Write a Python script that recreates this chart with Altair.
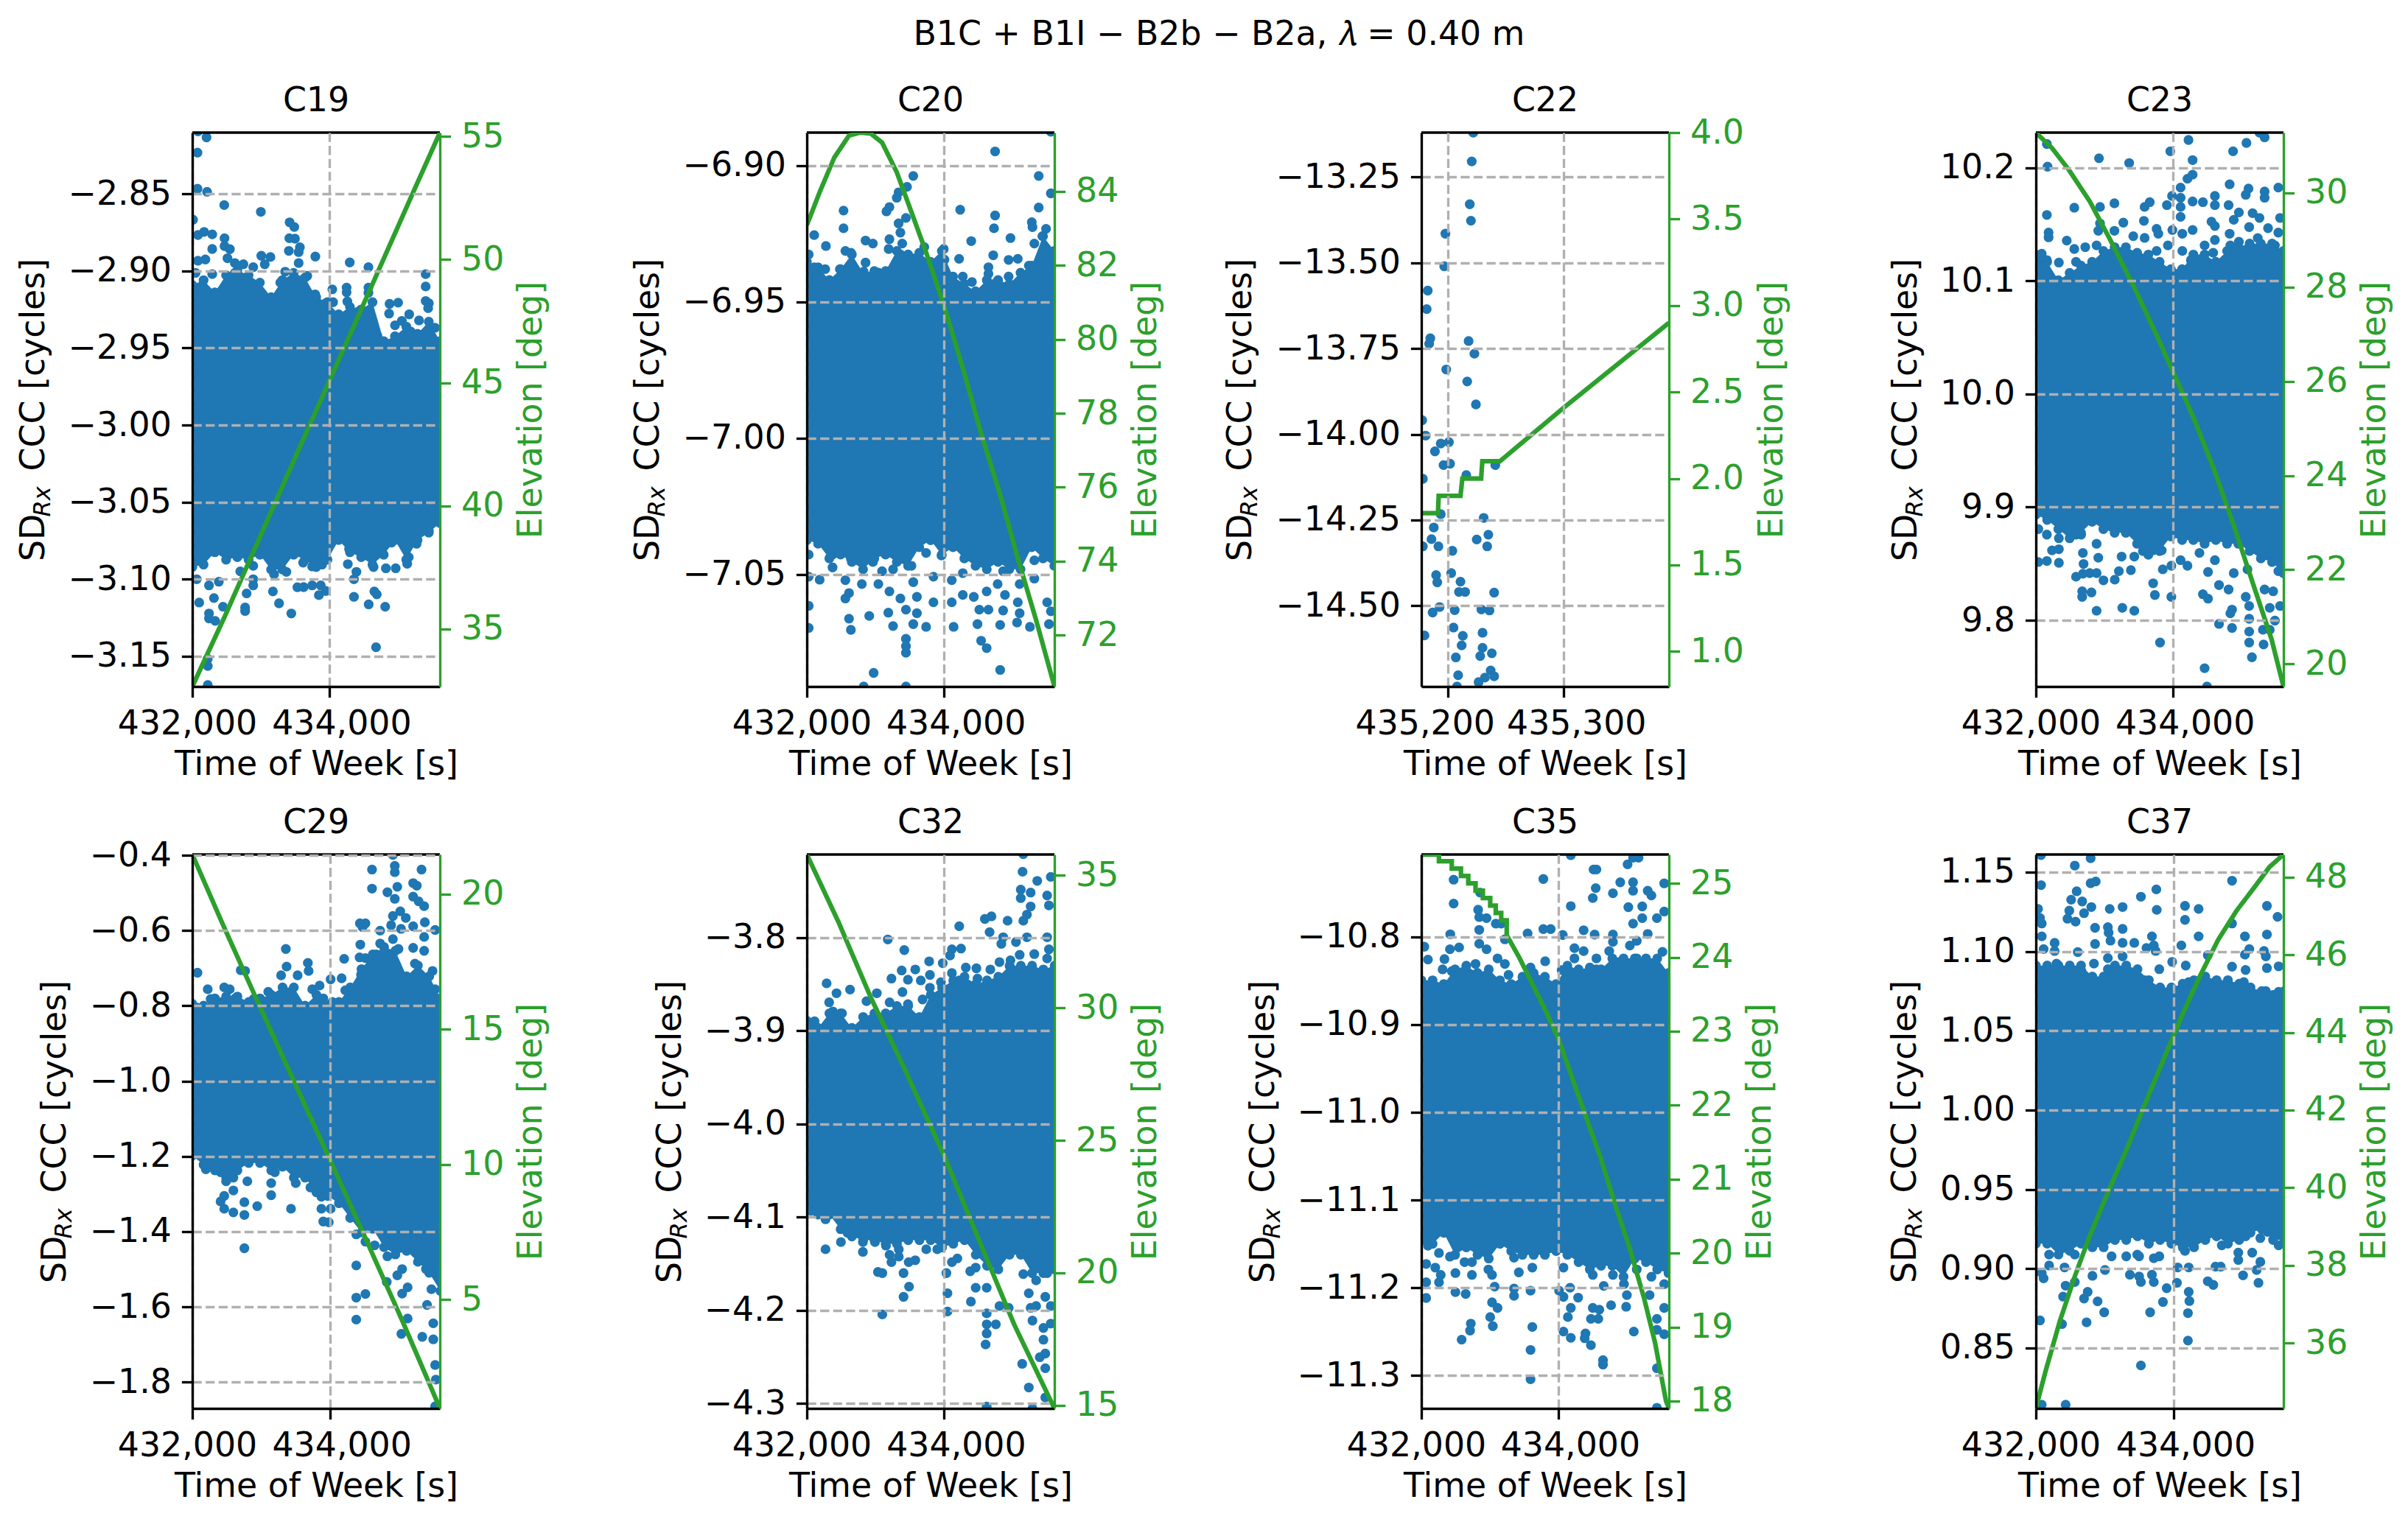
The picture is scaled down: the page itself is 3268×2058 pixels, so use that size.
import altair as alt
import pandas as pd

BLUE = "#1f77b4"
GREEN = "#2ca02c"
FONT = "DejaVu Sans"
FS = 45.8
W, H = 336, 752

SUPTITLE = "B1C + B1I \u2212 B2b \u2212 B2a, \U0001D706 = 0.40 m"

BAND_T = [432000,432164,432328,432492,432656,432820,432984,433148,433312,433476,433640,433804,433968,434132,434296,434460,434624,434788,434952,435116,435280,435444,435608]

C19_DOTS = [(432082,-2.8095),(432207,-2.8134),(432075,-2.8233),(432075,-2.8467),(432215,-2.8487),(432465,-2.8573),(432998,-2.8617),(432010,-2.8668),(433417,-2.8685),(433485,-2.8715),(432082,-2.8767),(432172,-2.8747),(432290,-2.8763),(432469,-2.8788),(433413,-2.8788),(433495,-2.8791),(432290,-2.8858),(432469,-2.8839),(432547,-2.8859),(433567,-2.8847),(433406,-2.887),(433549,-2.8878),(433005,-2.8902),(433138,-2.891),(433055,-2.8957),(433792,-2.8907),(434293,-2.8945),(434565,-2.8976),(435399,-2.9021),(435399,-2.9101),(432190,-2.8926),(432082,-2.8934),(432047,-2.9013),(432512,-2.8918),(432619,-2.8949),(432744,-2.8957),(432887,-2.8976),(432619,-2.9013),(432290,-2.9021),(432530,-2.906),(433352,-2.9005),(433549,-2.8949),(433674,-2.9032),(433567,-2.9076),(433281,-2.9076),(434039,-2.912),(434247,-2.9108),(434247,-2.9139),(434565,-2.9108),(434565,-2.9142),(434258,-2.9198),(433789,-2.9152),(433674,-2.9147),(434050,-2.9203),(433943,-2.921),(434873,-2.9214),(434998,-2.9206),(434866,-2.9277),(435399,-2.9195),(435445,-2.921),(435435,-2.9242),(434569,-2.9277),(434504,-2.9337),(434408,-2.9266),(435159,-2.9282),(435052,-2.9324),(434952,-2.9353),(435302,-2.9321),(434694,-2.9419),(435177,-2.9392),(435535,-2.9369),(433817,-2.9282),
(432064,-3.1),(432100,-3.1151),(432243,-3.104),(432386,-3.1016),(432315,-3.1122),(432447,-3.1178),(432243,-3.1222),(432243,-3.1254),(432333,-3.127),(432225,-3.1563),(432225,-3.1516),(432225,-3.1686),(432698,-3.0949),(432887,-3.0913),(432887,-3.1),(432887,-3.104),(432791,-3.1092),(432769,-3.1183),(432769,-3.1206),(433174,-3.1079),(433263,-3.1156),(433442,-3.1222),(433191,-3.0968),(433370,-3.0952),(433174,-3.0905),(433531,-3.1052),(433621,-3.1051),(433746,-3.104),(433871,-3.104),(433943,-3.1076),(433843,-3.1103),(433614,-3.0892),(433746,-3.0917),(433889,-3.0905),(433943,-3.0841),(434265,-3.0902),(434390,-3.0952),(434354,-3.1),(434354,-3.1114),(434651,-3.1079),(434687,-3.1098),(434569,-3.1163),(434809,-3.1178),(434676,-3.1441),(434819,-3.0929),(434962,-3.0929),(435130,-3.09),(435152,-3.0857),(434902,-3.0762),(435266,-3.077),(435445,-3.0683),(434157,-3.073),(434283,-3.0802),(434640,-3.0921)]
C19_BAND_TOP = [-2.9092,-2.906,-2.9139,-2.9028,-2.8997,-2.9028,-2.9076,-2.9171,-2.906,-2.9013,-2.9044,-2.9171,-2.9203,-2.9282,-2.9234,-2.925,-2.9203,-2.9456,-2.9424,-2.9361,-2.9408,-2.9329,-2.9456]
C19_BAND_BOT = [-3.0921,-3.0905,-3.0825,-3.0873,-3.0857,-3.0873,-3.0841,-3.0937,-3.0937,-3.0841,-3.0873,-3.0921,-3.0873,-3.0746,-3.0825,-3.0857,-3.0905,-3.0841,-3.0746,-3.0873,-3.0746,-3.0698,-3.0635]
C19_LINE_T = [432000,432471,433019,433567,434000,434663,435211,435606]
C19_LINE_E = [32.66,35.5,38.95,42.4,45.1,49.25,52.7,55.16]

C20_DOTS = [(435558,-6.8876),(434745,-6.8948),(433552,-6.9038),(435381,-6.9038),(433461,-6.9078),(433338,-6.9098),(433311,-6.9118),(435558,-6.9102),(433204,-6.9152),(433161,-6.9168),(432535,-6.9165),(432535,-6.923),(434236,-6.9162),(434745,-6.9183),(435381,-6.9154),(433445,-6.9192),(433338,-6.9212),(434729,-6.923),(435280,-6.9208),(435290,-6.9226),(433364,-6.9246),(432107,-6.9255),(434969,-6.9266),(434397,-6.9277),(435488,-6.9232),(435434,-6.9259),(433204,-6.927),(432856,-6.9275),(432963,-6.9286),(432278,-6.9295),(433391,-6.9286),(435317,-6.9286),(432562,-6.9313),(432643,-6.932),(432027,-6.9326),(433712,-6.9299),(433996,-6.9306),(433193,-6.9306),(433364,-6.9326),(433525,-6.934),(434220,-6.9342),(434718,-6.9329),(435531,-6.9329),(432643,-6.936),(432856,-6.9356),(433819,-6.936),(434006,-6.9345),(434942,-6.9346),(435076,-6.9342),(434648,-6.9373),(432107,-6.9373),(432268,-6.938),(432482,-6.938),(433043,-6.9393),(432829,-6.9389),(434274,-6.9407),(434648,-6.9397),(434942,-6.9407),(435237,-6.9367),(435504,-6.9393),(432027,-6.9434),(432615,-6.9441),(432856,-6.9434),(433257,-6.9427),(434407,-6.9427),(434729,-6.9434),
(432027,-7.0427),(432027,-7.0508),(432187,-7.0519),(432375,-7.0427),(432375,-7.0474),(432615,-7.04),(432562,-7.0521),(432642,-7.0441),(432802,-7.0535),(433043,-7.0535),(432963,-7.0454),(433097,-7.0488),(433257,-7.0481),(433525,-7.0468),(433552,-7.0528),(433204,-7.0562),(432615,-7.0568),(432562,-7.0588),(433364,-7.0588),(433445,-7.0629),(433605,-7.0582),(433605,-7.0642),(433846,-7.0602),(433846,-7.0508),(433739,-7.0421),(433963,-7.043),(434113,-7.0521),(434113,-7.0602),(434274,-7.0495),(434274,-7.0575),(434434,-7.0582),(434515,-7.0629),(434648,-7.0629),(434622,-7.0562),(434782,-7.0535),(434889,-7.0575),(434862,-7.0632),(435076,-7.0602),(435103,-7.0642),(435103,-7.0535),(434862,-7.0488),(435317,-7.0515),(435317,-7.0448),(435504,-7.0602),(435558,-7.0635),(435531,-7.0682),(432027,-7.0615),(432027,-7.0696),(432615,-7.0662),(432642,-7.0703),(432910,-7.0652),(433188,-7.064),(433257,-7.0689),(433552,-7.0682),(433739,-7.0692),(434140,-7.0692),(434488,-7.0682),(434819,-7.0685),(435065,-7.0676),(435253,-7.0692),(434541,-7.0743),(434622,-7.077),(433445,-7.0736),(433445,-7.0763),(433445,-7.0787),(434819,-7.085),(432974,-7.0861),(432829,-7.0911),(433445,-7.0911)]
C20_BAND_TOP = [-6.9353,-6.9373,-6.942,-6.938,-6.9326,-6.9393,-6.9387,-6.9387,-6.9313,-6.9326,-6.932,-6.9353,-6.9313,-6.9407,-6.9434,-6.9461,-6.942,-6.942,-6.9434,-6.9393,-6.9367,-6.9259,-6.9313]
C20_BAND_BOT = [-7.0374,-7.0387,-7.0441,-7.0427,-7.0454,-7.0481,-7.0441,-7.0427,-7.0454,-7.0468,-7.04,-7.0374,-7.0427,-7.04,-7.0441,-7.0468,-7.0481,-7.0454,-7.0481,-7.0481,-7.04,-7.0441,-7.0468]
C20_LINE_T = [432000,432187,432401,432615,432776,432936,433097,433311,433525,433739,434000,434274,434541,434809,435076,435344,435611]
C20_LINE_E = [83.09,83.98,84.92,85.51,85.59,85.56,85.32,84.52,83.44,82.35,80.91,79.23,77.45,75.86,74.08,72.4,70.61]

C22_DOTS = [(435222,-13.12),(435220.7,-13.204),(435219,-13.329),(435220,-13.377),(435198,-13.415),(435197,-13.51),(435182.8,-13.581),(435181.9,-13.635),(435185,-13.72),(435184,-13.736),(435218,-13.728),(435223,-13.765),(435198.7,-13.811),(435216.8,-13.846),(435224.3,-13.913),(435178,-13.959),(435181,-14.004),(435194,-14.027),(435201,-14.023),(435189,-14.05),(435196.4,-14.09),(435202,-14.086),(435178.6,-14.13),(435216,-14.119),(435241,-14.09),(435194,-14.233),(435188,-14.272),(435186,-14.306),(435178.6,-14.327),(435192,-14.327),(435231,-14.244),(435235,-14.293),(435225,-14.307),(435234,-14.327),(435204,-14.34),(435190,-14.411),(435191,-14.432),(435203,-14.405),(435211,-14.43),(435209.7,-14.46),(435215,-14.46),(435240,-14.462),(435187,-14.52),(435193,-14.504),(435206,-14.513),(435229,-14.511),(435236,-14.514),(435180,-14.587),(435205,-14.564),(435213,-14.588),(435230,-14.579),(435212,-14.616),(435230,-14.623),(435238,-14.639),(435228,-14.647),(435207,-14.651),(435209,-14.703),(435237,-14.689),(435240,-14.706),(435232,-14.71),(435226.6,-14.723),(435208,-14.736)]
C22_LINE_T = [435177.3,435191.6,435192.2,435211,435212.6,435228.8,435229.8,435245,435300,435390.6]
C22_LINE_E = [1.8,1.8,1.9,1.9,2.0,2.0,2.1,2.1,2.41,2.9]

C23_DOTS = [(432160,10.221),(432170,10.201),(432920,10.2084),(433360,10.2042),(433960,10.2146),(434225,10.2246),(434285,10.2068),(434285,10.1939),(434210,10.1903),(434875,10.2146),(435070,10.222),(435260,10.2311),(435335,10.2269),(434110,10.1825),(434825,10.1854),(435100,10.1816),(435060,10.1761),(435335,10.179),(435335,10.1735),(435535,10.1825),(433985,10.1751),(434110,10.1735),(434285,10.1702),(434435,10.1696),(434610,10.1751),(433910,10.167),(434110,10.1654),(434810,10.167),(434610,10.167),(433145,10.1686),(432935,10.1654),(432560,10.1647),(432160,10.1583),(433660,10.1696),(433585,10.1654),(434110,10.1566),(434960,10.1605),(435160,10.1599),(434885,10.154),(435260,10.1557),(435560,10.1557),(434560,10.1524),(434610,10.1485),(433275,10.1515),(432935,10.1508),(433575,10.1531),(433760,10.146),(433785,10.1417),(433990,10.145),(432910,10.1443),(433145,10.1443),(432185,10.1427),(432185,10.1385),(434135,10.1417),(434285,10.145),(434825,10.1417),(435110,10.1476),(435385,10.1466),(435535,10.1427),(433420,10.1395),(433585,10.138),(434610,10.1362),(432450,10.1356),(435235,10.1379),(434960,10.1346),(432560,10.1282),(432720,10.1298),(432885,10.1314),(432085,10.124),(432160,10.1184),(432335,10.1162),(433760,10.1265),(433925,10.1314),(434135,10.1265),(434460,10.1314),(434835,10.1314),(435485,10.1314),(435085,10.1282),(435285,10.1265),(433360,10.1184),(434260,10.1184),(432585,10.1168),(432885,10.1152),(434585,10.1249),(435410,10.1168),(432035,10.1071),(432185,10.1039),(432235,10.0926),(432310,10.0812),
(432035,9.8806),(432160,9.8757),(432335,9.8725),(432035,9.8515),(432160,9.8524),(432335,9.8508),(432235,9.8618),(432335,9.8628),(432335,9.8968),(432585,9.8757),(432660,9.8757),(432685,9.8595),(432695,9.8498),(432585,9.8385),(432685,9.8411),(432885,9.8676),(432910,9.8553),(432785,9.8417),(432885,9.8417),(432985,9.8353),(432675,9.8256),(432675,9.8207),(432810,9.8246),(432885,9.8084),(433260,9.811),(433435,9.8084),(433150,9.8359),(433210,9.8434),(433385,9.8443),(433250,9.8563),(433435,9.8563),(433585,9.8968),(433535,9.8838),(433860,9.8812),(433560,9.8612),(433710,9.8618),(433835,9.8618),(433710,9.8327),(433735,9.8223),(433850,9.845),(433975,9.8482),(433975,9.8207),(433810,9.7803),(434110,9.8531),(434210,9.8482),(434385,9.8595),(434510,9.8427),(434435,9.823),(434510,9.8191),(434460,9.7576),(434495,9.7414),(434610,9.8531),(434670,9.8311),(434810,9.8272),(434885,9.8417),(434835,9.8061),(434860,9.8094),(434670,9.7968),(434860,9.7932),(435060,9.8207),(435110,9.8126),(435110,9.8013),(435110,9.79),(435110,9.7803),(435150,9.7673),(435320,9.7786),(435310,9.7916),(435410,9.7916),(435485,9.7997),(435410,9.811),(435335,9.8272),(435460,9.8256),(435560,9.8126),(435535,9.8434),(435085,9.845),(435335,9.8644),(435485,9.8547)]
C23_BAND_TOP = [10.1233,10.1168,10.1006,10.1071,10.1136,10.1168,10.1265,10.1298,10.1298,10.1249,10.1233,10.1168,10.1104,10.1104,10.1233,10.1233,10.1168,10.1265,10.1298,10.133,10.133,10.133,10.1265]
C23_BAND_BOT = [9.8935,9.8887,9.8806,9.8725,9.8773,9.8871,9.8806,9.8773,9.8773,9.8676,9.8579,9.8612,9.8741,9.8709,9.8709,9.8676,9.8709,9.8676,9.8676,9.8612,9.8547,9.8515,9.8417]
C23_LINE_T = [432000,432235,432485,432785,433085,433435,433735,434000,434285,434585,434885,435185,435435,435610]
C23_LINE_E = [31.28,30.95,30.48,29.82,29.0,27.99,27.06,26.2,25.27,24.18,22.94,21.62,20.53,19.52]

C29_DOTS = [(434917,-0.3992),(434613,-0.438),(434944,-0.4283),(434944,-0.4449),(435333,-0.438),(434613,-0.4886),(434981,-0.4838),(434837,-0.4983),(435211,-0.474),(435264,-0.4808),(434944,-0.5158),(435211,-0.51),(435291,-0.5226),(435371,-0.5353),(435024,-0.5489),(434917,-0.5615),(435104,-0.5664),(434437,-0.581),(434517,-0.581),(435381,-0.5781),(434475,-0.5907),(434891,-0.5859),(435211,-0.5888),(435035,-0.5956),(434731,-0.6004),(435531,-0.5985),(435371,-0.617),(434917,-0.6228),(434443,-0.6374),(435211,-0.6461),(434731,-0.6345),(433360,-0.649),(434997,-0.649),(435371,-0.6539),(434432,-0.6714),(434208,-0.6753),(433680,-0.686),(434677,-0.6636),(434517,-0.6733),(434837,-0.6733),(433371,-0.6957),(433691,-0.7074),(435237,-0.6879),(432075,-0.7122),(432704,-0.7054),(432768,-0.7074),(434453,-0.7171),(434731,-0.7074),(433291,-0.719),(433531,-0.719),(435493,-0.7074),(434011,-0.7297),(433851,-0.7462),(434171,-0.7268),(432224,-0.756),(432464,-0.7511),(432544,-0.756),(433104,-0.7628),(433744,-0.756),(434224,-0.7589),(435531,-0.756),(432267,-0.7822),(432624,-0.7803),(432891,-0.7822),(433904,-0.7803),(434037,-0.79),(435531,-0.7803),(432064,-0.8046),
(432197,-1.2343),(432411,-1.2421),(432597,-1.2567),(432491,-1.2664),(432800,-1.2664),(432597,-1.2907),(432464,-1.3053),(432411,-1.3199),(432464,-1.3393),(432597,-1.349),(432757,-1.3218),(432757,-1.3558),(432944,-1.3325),(433147,-1.3033),(433147,-1.2712),(433200,-1.2421),(433435,-1.3393),(433504,-1.2712),(433717,-1.2829),(433877,-1.3072),(433877,-1.3393),(434011,-1.3393),(433904,-1.3733),(433984,-1.3753),(432757,-1.4443),(434384,-1.4074),(434517,-1.4268),(434651,-1.4365),(434837,-1.4657),(434384,-1.49),(434384,-1.5755),(434517,-1.5658),(434384,-1.6339),(434827,-1.5337),(434981,-1.5162),(435051,-1.4997),(435131,-1.5483),(435051,-1.5648),(435413,-1.595),(435131,-1.631),(435504,-1.6436),(435040,-1.6718),(435344,-1.6796),(435504,-1.6864),(435531,-1.7544),(435541,-1.7933),(435531,-1.8643),(435477,-1.5532),(434837,-1.3636),(435051,-1.4219),(435264,-1.4365),(435397,-1.4997),(434891,-1.3928)]
C29_BAND_TOP = [-0.7949,-0.7997,-0.7803,-0.7754,-0.7754,-0.79,-0.7803,-0.7706,-0.7511,-0.7511,-0.7997,-0.7706,-0.7997,-0.79,-0.7511,-0.7025,-0.6636,-0.6442,-0.6539,-0.722,-0.6928,-0.722,-0.7803]
C29_BAND_BOT = [-1.1983,-1.2226,-1.2372,-1.2567,-1.2372,-1.2178,-1.2178,-1.2372,-1.2275,-1.2567,-1.2567,-1.2955,-1.3053,-1.3247,-1.3636,-1.4025,-1.3928,-1.4414,-1.4608,-1.4511,-1.4803,-1.5094,-1.558]
C29_LINE_T = [432000,432437,432917,433451,434000,434517,435051,435600]
C29_LINE_E = [21.47,18.92,16.21,13.23,10.19,7.28,4.24,0.99]

C32_DOTS = [(435152,-3.7104),(435141,-3.7293),(435552,-3.7348),(435355,-3.7391),(435115,-3.7485),(435259,-3.7517),(435115,-3.7576),(435499,-3.7548),(435259,-3.7666),(435525,-3.7654),(435205,-3.7753),(434592,-3.78),(434688,-3.7772),(435152,-3.7819),(434923,-3.7819),(434219,-3.7878),(434661,-3.7941),(435205,-3.7996),(434859,-3.7996),(435499,-3.7996),(433179,-3.802),(435045,-3.8047),(434832,-3.8067),(433419,-3.8134),(434112,-3.8126),(434245,-3.8118),(435525,-3.8126),(434085,-3.8192),(435312,-3.8177),(435099,-3.8185),(433781,-3.8255),(433979,-3.8275),(434805,-3.8263),(434965,-3.8244),(435499,-3.8224),(433579,-3.8342),(433381,-3.8353),(434315,-3.8322),(434469,-3.833),(434672,-3.8342),(434965,-3.8322),(435285,-3.8342),(433792,-3.8401),(434112,-3.8381),(433232,-3.844),(433472,-3.8452),(433659,-3.846),(433952,-3.8479),(434219,-3.846),(434485,-3.844),(434805,-3.844),(435232,-3.842),(432288,-3.8491),(432629,-3.8558),(432432,-3.8597),(433019,-3.8597),(433392,-3.8585),(433792,-3.8538),(432325,-3.8695),(432869,-3.8683),(433205,-3.8695),(433472,-3.8715),(433685,-3.8664),(433872,-3.8774),(435339,-3.8636),(432379,-3.8793),(432512,-3.8813),(432859,-3.8892),(433365,-3.8813),(433685,-3.8892),(432112,-3.8899),(434485,-3.8617),(434805,-3.8577),
(432059,-4.0934),(432245,-4.0954),(432272,-4.1024),(432272,-4.1346),(432496,-4.1268),(432592,-4.117),(432816,-4.1268),(432816,-4.1374),(432992,-4.1268),(433152,-4.1307),(433205,-4.1405),(433339,-4.1346),(433339,-4.1425),(433232,-4.1484),(433483,-4.1484),(433579,-4.1464),(433739,-4.1346),(433899,-4.1346),(434192,-4.1445),(434112,-4.1484),(433035,-4.159),(433099,-4.1602),(433408,-4.1602),(433488,-4.1747),(433408,-4.1857),(434032,-4.1602),(434048,-4.1818),(434048,-4.2014),(433099,-4.2046),(434379,-4.1582),(434459,-4.1543),(434459,-4.1759),(434389,-4.1908),(434619,-4.1759),(434619,-4.2034),(434619,-4.2152),(434752,-4.2152),(434619,-4.225),(434603,-4.2368),(434805,-4.1955),(434939,-4.1975),(435152,-4.1613),(435232,-4.1818),(435259,-4.1975),(435339,-4.1955),(435472,-4.1857),(435285,-4.2112),(435445,-4.2191),(435552,-4.1955),(435552,-4.2144),(435445,-4.2317),(435472,-4.2466),(435392,-4.2505),(435472,-4.2623),(435136,-4.2576),(435232,-4.283),(435472,-4.2937),(434619,-4.3035),(435285,-4.3055),(435339,-4.168),(435499,-4.1602)]
C32_BAND_TOP = [-3.8892,-3.897,-3.8813,-3.8813,-3.897,-3.8852,-3.8813,-3.8813,-3.8734,-3.8734,-3.8852,-3.8617,-3.8538,-3.846,-3.842,-3.8499,-3.846,-3.842,-3.8302,-3.8302,-3.8302,-3.8342,-3.8302]
C32_BAND_BOT = [-4.0895,-4.0973,-4.0973,-4.1131,-4.1209,-4.1248,-4.1248,-4.1287,-4.1287,-4.1248,-4.1248,-4.1248,-4.1327,-4.1287,-4.1248,-4.1405,-4.1523,-4.1562,-4.1405,-4.1405,-4.1602,-4.1602,-4.1562]
C32_LINE_T = [432000,432459,432939,433419,434000,434485,435019,435605]
C32_LINE_E = [35.79,33.25,30.35,27.72,24.41,21.37,18.05,14.88]

C35_DOTS = [(434182,-10.707),(435091,-10.7099),(435171,-10.7099),(435011,-10.7174),(434514,-10.7233),(434556,-10.7233),(433781,-10.7341),(432471,-10.7349),(434904,-10.7379),(435091,-10.7379),(435546,-10.7391),(434546,-10.7445),(435091,-10.7475),(435305,-10.7475),(435359,-10.7529),(434797,-10.7504),(432856,-10.7495),(434503,-10.7558),(432471,-10.7621),(434182,-10.765),(435022,-10.7662),(435225,-10.7654),(432829,-10.7691),(435546,-10.7712),(432845,-10.7775),(432952,-10.7787),(433086,-10.785),(433166,-10.785),(435225,-10.7787),(435439,-10.7787),(435091,-10.785),(432845,-10.7921),(433781,-10.7912),(433888,-10.7912),(434369,-10.7925),(434530,-10.7975),(433551,-10.7962),(434064,-10.7979),(432422,-10.7971),(434797,-10.7975),(435305,-10.7967),(433219,-10.8029),(434797,-10.8058),(435145,-10.8046),(432845,-10.8079),(432043,-10.8113),(432417,-10.8142),(432551,-10.8121),(432952,-10.8142),(434235,-10.8129),(435520,-10.8171),(434369,-10.8163),(434743,-10.8163),(435044,-10.81),(432096,-10.8259),(432337,-10.8254),(433112,-10.8246),(433219,-10.8309),(432791,-10.8309),(433808,-10.8279),(434048,-10.8379),(434235,-10.8246),(434556,-10.8246),(435145,-10.8246),(435412,-10.8309),(432310,-10.8371),(432444,-10.8392),(432818,-10.8413),(433273,-10.8434),(433594,-10.835),(434556,-10.8371),(434770,-10.835),(434877,-10.8288),(435572,-10.8455),
(432070,-11.129),(432203,-11.129),(432417,-11.1374),(432711,-11.129),(432096,-11.152),(432257,-11.1603),(432417,-11.1645),(432631,-11.152),(432952,-11.1582),(432070,-11.1728),(432203,-11.177),(432283,-11.1853),(432070,-11.1937),(432070,-11.2116),(432257,-11.1937),(432497,-11.1832),(432631,-11.1707),(432738,-11.1707),(432738,-11.1853),(432497,-11.2049),(432647,-11.207),(432979,-11.1791),(433032,-11.1853),(433070,-11.1987),(433032,-11.2166),(433112,-11.2229),(433005,-11.2333),(433043,-11.2437),(432722,-11.2408),(432711,-11.2487),(432588,-11.2591),(433353,-11.1657),(433423,-11.1824),(433353,-11.2008),(433353,-11.2091),(433594,-11.2033),(433620,-11.177),(433620,-11.2446),(433594,-11.2708),(433594,-11.3042),(434075,-11.177),(434011,-11.2033),(434171,-11.1999),(434075,-11.2103),(434289,-11.2112),(434182,-11.2229),(434139,-11.2333),(434075,-11.2499),(434182,-11.257),(434396,-11.252),(434385,-11.2575),(434476,-11.2654),(434503,-11.2229),(434599,-11.2249),(434476,-11.2354),(434583,-11.2354),(434503,-11.1853),(434663,-11.1978),(434770,-11.2199),(434652,-11.2825),(434652,-11.2875),(435001,-11.2083),(434990,-11.2216),(435102,-11.2499),(435439,-11.2917),(435439,-11.3367),(435439,-11.2479),(435546,-11.2529),(435439,-11.2354),(435546,-11.2229),(435332,-11.2083),(435546,-11.1958),(435145,-11.1791),(435359,-11.1874),(434797,-11.1853),(434958,-11.1958)]
C35_BAND_TOP = [-10.8496,-10.8496,-10.8538,-10.8371,-10.8329,-10.8413,-10.8371,-10.8496,-10.8538,-10.8455,-10.8413,-10.8455,-10.8538,-10.8329,-10.8371,-10.835,-10.8371,-10.8246,-10.8246,-10.8246,-10.8246,-10.8246,-10.8413]
C35_BAND_BOT = [-11.1457,-11.1499,-11.1374,-11.1624,-11.154,-11.1624,-11.1666,-11.1499,-11.1582,-11.1624,-11.1624,-11.1624,-11.1582,-11.1624,-11.1707,-11.1791,-11.1749,-11.1749,-11.1874,-11.1666,-11.1707,-11.1791,-11.1832]
C35_LINE_T = [432000,432257,432257,432444,432444,432578,432578,432685,432685,432791,432791,432898,432898,433005,433005,433086,433086,433166,433166,433246,433246,433433,433647,433808,434000,434209,434396,434610,434824,435038,435252,435412,435572,435615]
C35_LINE_E = [25.39,25.39,25.3,25.3,25.2,25.2,25.1,25.1,25.0,25.0,24.9,24.9,24.8,24.8,24.7,24.7,24.6,24.6,24.5,24.5,24.3,23.99,23.59,23.29,22.9,22.35,21.86,21.31,20.67,20.08,19.39,18.79,18.0,17.9]

C37_DOTS = [(432075,1.1607),(432795,1.1587),(432565,1.1541),(432795,1.143),(432869,1.1441),(432075,1.1418),(434848,1.1446),(432592,1.1379),(433749,1.1391),(433525,1.1345),(432512,1.1326),(432672,1.1315),(432805,1.128),(433072,1.1268),(433259,1.128),(434165,1.1287),(434363,1.1268),(433755,1.1262),(435355,1.1287),(432485,1.1257),(432699,1.1241),(432032,1.1268),(432059,1.1211),(432459,1.1206),(432576,1.1188),(434165,1.1199),(434848,1.1176),(435509,1.1218),(432859,1.1149),(433045,1.1153),(433259,1.1142),(432085,1.1176),(433056,1.1119),(433685,1.1095),(434363,1.1095),(435035,1.1095),(435355,1.1107),(432085,1.1095),(433083,1.1068),(433429,1.1054),(433259,1.1054),(432272,1.1054),(432859,1.1047),(433712,1.1038),(434112,1.1038),(435099,1.1015),(432112,1.1015),(432272,1.1003),(432608,1.0996),(433605,1.1022),(433739,1.1003),(435312,1.1003),(435035,1.098),(435339,1.0969),(434496,1.0976),(433259,1.0969),(433045,1.0958),(433979,1.0934),(434176,1.0911),(434848,1.0904),(435045,1.0883),(435355,1.0895),(435525,1.0906),(432843,1.0923),(432661,1.0876),(433045,1.0888),(433792,1.0888),(432299,1.0923),(433312,1.083),(435019,1.0807),(434619,1.0796),(435339,1.075),(435525,1.0745),(432779,1.0807),(433579,1.0819),(434219,1.0807),
(432085,0.8974),(432112,0.8939),(432059,0.8674),(432192,0.9089),(432192,0.902),(432379,0.8651),(432416,0.9008),(432432,0.8893),(432395,0.8824),(432565,0.8916),(432565,0.9089),(432699,0.8812),(432752,0.8854),(432821,0.8955),(432896,0.8794),(432992,0.8725),(432736,0.8662),(433003,0.8992),(433099,0.9078),(433365,0.8962),(433499,0.8951),(433525,0.8916),(433312,0.9078),(433499,0.9078),(433712,0.9066),(433792,0.9078),(433685,0.8962),(433712,0.8916),(433899,0.8877),(433845,0.879),(433659,0.8725),(434048,0.8911),(434059,0.9008),(434219,0.9008),(434219,0.8854),(434229,0.8796),(434208,0.872),(434208,0.8547),(433525,0.839),(434496,0.8921),(434576,0.8898),(434608,0.9013),(434683,0.9013),(435008,0.8958),(434939,0.9101),(434939,0.9055),(435141,0.9101),(435259,0.9043),(435205,0.8992),(435232,0.8911),(435045,0.9204),(435259,0.9193),(435365,0.9232),(435525,0.9147),(434699,0.9147),(434165,0.9112),(433472,0.9089),(432085,0.8143),(432432,0.8143),(434912,0.9274)]
C37_BAND_TOP = [1.0911,1.0911,1.0911,1.0911,1.0911,1.0842,1.0842,1.0911,1.0911,1.0888,1.0819,1.0773,1.0773,1.0796,1.0819,1.0842,1.0819,1.0819,1.0796,1.0773,1.075,1.0726,1.075]
C37_BAND_BOT = [0.9158,0.9158,0.9089,0.9112,0.9158,0.9135,0.9135,0.9181,0.9181,0.9204,0.9158,0.9181,0.9158,0.9135,0.9135,0.9181,0.9204,0.9158,0.9181,0.9227,0.925,0.9181,0.9181]
C37_LINE_T = [432000,432139,432352,432565,432779,433045,433312,433579,433845,434112,434379,434645,434912,435179,435392,435595]
C37_LINE_E = [34.33,35.27,36.59,37.72,38.75,39.88,40.97,42.14,43.27,44.4,45.44,46.38,47.13,47.75,48.26,48.58]

PANELS = [
    dict(name="C19", dots=C19_DOTS, band=(C19_BAND_TOP, C19_BAND_BOT), line=(C19_LINE_T, C19_LINE_E),
         xd=[432000,435606], yd=[-3.1696,-2.8103], ed=[32.66,55.16], xt=[432000,434000],
         yt=[-2.85,-2.90,-2.95,-3.00,-3.05,-3.10,-3.15], yf=".2f", et=[35,40,45,50,55], ef="d", tx=-216, ex=123, lo=(-7,16)),
    dict(name="C20", dots=C20_DOTS, band=(C20_BAND_TOP, C20_BAND_BOT), line=(C20_LINE_T, C20_LINE_E),
         xd=[432000,435610], yd=[-7.0911,-6.8879], ed=[70.61,85.59], xt=[432000,434000],
         yt=[-6.90,-6.95,-7.00,-7.05], yf=".2f", et=[72,74,76,78,80,82,84], ef="d", tx=-216, ex=123, lo=(-7,16)),
    dict(name="C22", dots=C22_DOTS, band=None, line=(C22_LINE_T, C22_LINE_E),
         xd=[435177.3,435390.6], yd=[-14.736,-13.12], ed=[0.797,4.0], xt=[435200,435300],
         yt=[-13.25,-13.50,-13.75,-14.00,-14.25,-14.50], yf=".2f", et=[1.0,1.5,2.0,2.5,3.0,3.5,4.0], ef=".1f", tx=-246, ex=139, lo=(-31,17)),
    dict(name="C23", dots=C23_DOTS, band=(C23_BAND_TOP, C23_BAND_BOT), line=(C23_LINE_T, C23_LINE_E),
         xd=[432000,435610], yd=[9.7414,10.2311], ed=[19.52,31.28], xt=[432000,434000],
         yt=[9.8,9.9,10.0,10.1,10.2], yf=".1f", et=[20,22,24,26,28,30], ef="d", tx=-177, ex=123, lo=(-7,16)),
    dict(name="C29", dots=C29_DOTS, band=(C29_BAND_TOP, C29_BAND_BOT), line=(C29_LINE_T, C29_LINE_E),
         xd=[432000,435600], yd=[-1.87,-0.398], ed=[0.98,21.47], xt=[432000,434000],
         yt=[-0.4,-0.6,-0.8,-1.0,-1.2,-1.4,-1.6,-1.8], yf=".1f", et=[5,10,15,20], ef="d", tx=-187, ex=123, lo=(-7,16)),
    dict(name="C32", dots=C32_DOTS, band=(C32_BAND_TOP, C32_BAND_BOT), line=(C32_LINE_T, C32_LINE_E),
         xd=[432000,435605], yd=[-4.3055,-3.7108], ed=[14.88,35.79], xt=[432000,434000],
         yt=[-3.8,-3.9,-4.0,-4.1,-4.2,-4.3], yf=".1f", et=[15,20,25,30,35], ef="d", tx=-186, ex=123, lo=(-7,16)),
    dict(name="C35", dots=C35_DOTS, band=(C35_BAND_TOP, C35_BAND_BOT), line=(C35_LINE_T, C35_LINE_E),
         xd=[432000,435615], yd=[-11.3375,-10.7062], ed=[17.9,25.39], xt=[432000,434000],
         yt=[-10.8,-10.9,-11.0,-11.1,-11.2,-11.3], yf=".1f", et=[18,19,20,21,22,23,24,25], ef="d", tx=-215, ex=123, lo=(-7,16)),
    dict(name="C37", dots=C37_DOTS, band=(C37_BAND_TOP, C37_BAND_BOT), line=(C37_LINE_T, C37_LINE_E),
         xd=[432000,435595], yd=[0.8119,1.1611], ed=[34.32,48.58], xt=[432000,434000],
         yt=[0.85,0.90,0.95,1.00,1.05,1.10,1.15], yf=".2f", et=[36,38,40,42,44,46,48], ef="d", tx=-178, ex=123, lo=(-7,16)),
]

GRID = dict(grid=True, gridColor="#b0b0b0", gridWidth=3.33, gridDash=[12.3, 5.3], gridOpacity=1)
TICK = dict(tickSize=14.6, tickWidth=3.33, labelFontSize=FS, labelFont=FONT, titleFontSize=FS, titleFont=FONT,
            titleFontWeight="normal", labelPadding=14, labelLimit=500, zindex=1)


def panel(p):
    x = alt.X("t:Q", title="Time of Week [s]", sort=None,
              scale=alt.Scale(domain=p["xd"], nice=False, zero=False),
              axis=alt.Axis(values=p["xt"], format=",d", tickColor="black", domainColor="black", domainWidth=3.33,
                            labelColor="black", titleColor="black", titlePadding=10, labelFlush=False,
                            labelOverlap=False,
                            labelOffset={"condition": {"test": f"datum.value == {p['xt'][1]}", "value": p["lo"][1]}, "value": p["lo"][0]},
                            **GRID, **TICK))
    yax = alt.Axis(values=p["yt"], format=p["yf"], tickColor="black", domainColor="black", domainWidth=3.33,
                   labelColor="black", titleColor="black", title="SD\u00a0\u00a0\u00a0\u00a0CCC [cycles]",
                   titleX=p["tx"], titleAngle=270, titleBaseline="middle", titleAlign="center", labelOverlap=False, **GRID, **TICK)
    yscale = alt.Scale(domain=p["yd"], nice=False, zero=False)

    layers = []
    dots = list(p["dots"])
    if p["band"]:
        df_band = pd.DataFrame({"t": BAND_T, "top": p["band"][0], "bot": p["band"][1]})
        layers.append(alt.Chart(df_band).mark_area(color=BLUE, clip=True, opacity=1).encode(
            x=x, y=alt.Y("top:Q", scale=yscale, axis=yax), y2="bot:Q"))
        dots += list(zip(BAND_T, p["band"][0])) + list(zip(BAND_T, p["band"][1]))
    df_dots = pd.DataFrame(dots, columns=["t", "v"])
    layers.append(alt.Chart(df_dots).mark_circle(color=BLUE, opacity=1, size=177, clip=True).encode(
        x=x, y=alt.Y("v:Q", scale=yscale, axis=yax)))
    layers.append(alt.Chart(pd.DataFrame({"s": ["Rx"]})).mark_text(
        font=FONT, fontSize=32, fontStyle="italic", angle=270, color="black", align="center", baseline="middle"
    ).encode(text="s:N", x=alt.value(p["tx"] + 13), y=alt.value(501)))
    layers.append(alt.Chart(pd.DataFrame({"s": [p["name"]]})).mark_text(
        font=FONT, fontSize=FS, color="black", align="center", baseline="alphabetic"
    ).encode(text="s:N", x=alt.value(W / 2), y=alt.value(-29)))
    layers.append(alt.Chart(pd.DataFrame({"s": [0]})).mark_rule(color="black", strokeWidth=3.33).encode(
        x=alt.value(0), x2=alt.value(W), y=alt.value(0)))
    left = alt.layer(*layers)

    df_line = pd.DataFrame({"t": p["line"][0], "e": p["line"][1]})
    right = alt.Chart(df_line).mark_line(color=GREEN, strokeWidth=6.25, clip=True).encode(
        x=x,
        y=alt.Y("e:Q", scale=alt.Scale(domain=p["ed"], nice=False, zero=False),
                axis=alt.Axis(orient="right", values=p["et"], format=p["ef"], tickColor=GREEN, domainColor=GREEN,
                              domainWidth=3.33, labelColor=GREEN, titleColor=GREEN, title="Elevation [deg]",
                              titleX=p["ex"], titleAngle=270, titleBaseline="middle", titleAlign="center", grid=False,
                              labelOverlap=False, **TICK)))
    return alt.layer(left, right).resolve_scale(y="independent").properties(width=W, height=H)


chart = alt.concat(*[panel(p) for p in PANELS], columns=4, spacing={"row": 228, "column": 498}, bounds="flush").properties(
    padding={"left": 13, "top": 15, "right": 5, "bottom": 5},
    title=alt.TitleParams(SUPTITLE, fontSize=FS, font=FONT, fontWeight="normal", anchor="middle", color="black", dx=21, offset=43),
).configure_view(stroke=None).configure(background="white")

chart.save("out.html", embed_options={"renderer": "svg", "actions": False})
